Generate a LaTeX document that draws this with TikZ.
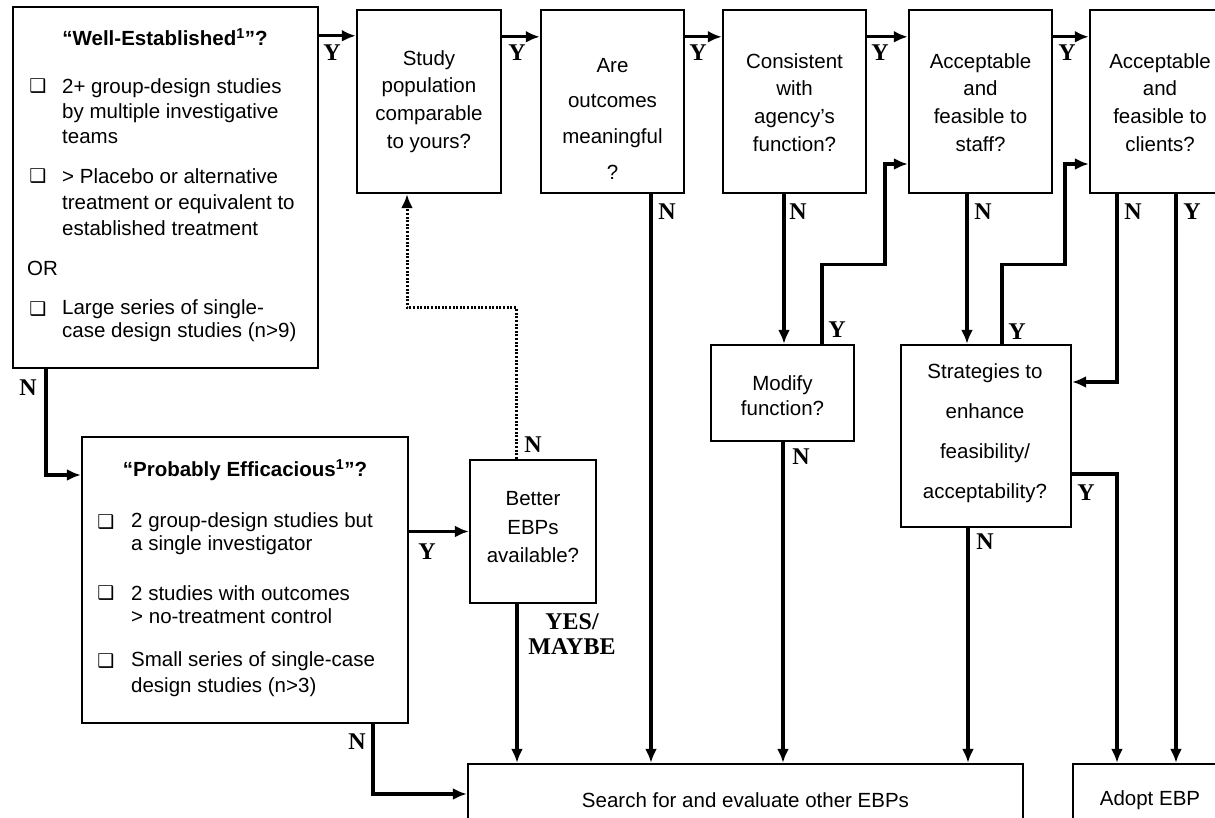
\documentclass[tikz,border=0pt]{standalone}
\usepackage{fontspec}
\setmainfont{Liberation Sans}
\newfontfamily\lblfont{Liberation Serif}
\newfontfamily\symfont{DejaVu Sans}
\usetikzlibrary{arrows.meta}
\tikzset{
  box/.style={draw, line width=2.4pt, inner sep=0pt},
  conn/.style={line width=3.2pt},
  arr/.style={conn, -{Latex[length=14pt,width=12pt]}},
  dotconn/.style={line width=3pt, dash pattern=on 2pt off 1.6pt, -{Latex[length=14pt,width=12pt]}},
  txt/.style={inner sep=0pt, font=\fontsize{20.5}{24}\selectfont},
  ttl/.style={inner sep=0pt, font=\fontsize{20.5}{24}\selectfont\bfseries},
  chk/.style={inner sep=0pt, font=\symfont\fontsize{19}{19}\selectfont},
  lab/.style={inner sep=0pt, font=\lblfont\bfseries\fontsize{24}{24}\selectfont},
}
\begin{document}
\begin{tikzpicture}[x=1pt,y=-1pt]
\useasboundingbox (0,0) rectangle (1215,817);
\clip (0,0) rectangle (1215,817);
% boxes
\node[box, minimum width=305, minimum height=361] (b1) at (165.5,187.5) {};
\node[box, minimum width=144, minimum height=183] (b2) at (429,101.5) {};
\node[box, minimum width=143, minimum height=183] (b3) at (612.5,101.5) {};
\node[box, minimum width=143, minimum height=183] (b4) at (794.5,101.5) {};
\node[box, minimum width=143, minimum height=183] (b5) at (980.5,101.5) {};
\node[box, minimum width=142, minimum height=183] (b6) at (1161,101.5) {};
\node[box, minimum width=326, minimum height=286] (bp) at (245,580) {};
\node[box, minimum width=126, minimum height=143] (bb) at (533,531.5) {};
\node[box, minimum width=143, minimum height=96] (bm) at (782.5,393) {};
\node[box, minimum width=170, minimum height=182] (bs) at (986,436) {};
\node[box, minimum width=555, minimum height=86] (bse) at (745.5,807) {};
\node[box, minimum width=154, minimum height=86] (ba) at (1150,807) {};

% box 1 text
\node[ttl] (t1) at (165,37) {“Well-Established\textsuperscript{1}”?};
\node[chk] (c1a) at (38,86) {❑};
\node[txt, anchor=west, align=left, font=\fontsize{20.5}{25}\selectfont] (t1a) at (62,111) {2+ group-design studies\\by multiple investigative\\teams};
\node[chk] (c1b) at (38,176) {❑};
\node[txt, anchor=west, align=left, font=\fontsize{20.5}{26}\selectfont] (t1b) at (62,202) {> Placebo or alternative\\treatment or equivalent to\\established treatment};
\node[txt, anchor=west] (t1or) at (27,268) {OR};
\node[chk] (c1c) at (38,309) {❑};
\node[txt, anchor=west, align=left, font=\fontsize{20.5}{22.5}\selectfont] (t1c) at (62,320.5) {Large series of single-\\case design studies (n>9)};

% probably efficacious text
\node[ttl] (tp) at (245,470) {“Probably Efficacious\textsuperscript{1}”?};
\node[chk] (cpa) at (106,522) {❑};
\node[txt, anchor=west, align=left, font=\fontsize{20.5}{23}\selectfont] (tpa) at (131,533.5) {2 group-design studies but\\a single investigator};
\node[chk] (cpb) at (106,593) {❑};
\node[txt, anchor=west, align=left, font=\fontsize{20.5}{23}\selectfont] (tpb) at (131,604.5) {2 studies with outcomes\\> no-treatment control};
\node[chk] (cpc) at (106,661) {❑};
\node[txt, anchor=west, align=left, font=\fontsize{20.5}{26}\selectfont] (tpc) at (131,674) {Small series of single-case\\design studies (n>3)};

% other box texts
\node[txt, align=center, font=\fontsize{20.5}{27.7}\selectfont] (t2) at (429,101.5) {Study\\population\\comparable\\to yours?};
\node[txt, align=center, font=\fontsize{20.5}{35.7}\selectfont] (t3) at (612.5,118.5) {Are\\outcomes\\meaningful\\?};
\node[txt, align=center, font=\fontsize{20.5}{27.7}\selectfont] (t4) at (794.5,102.5) {Consistent\\with\\agency’s\\function?};
\node[txt, align=center, font=\fontsize{20.5}{27.7}\selectfont] (t5) at (980.5,102.5) {Acceptable\\and\\feasible to\\staff?};
\node[txt, align=center, font=\fontsize{20.5}{27.7}\selectfont] (t6) at (1160,102.5) {Acceptable\\and\\feasible to\\clients?};
\node[txt, align=center, font=\fontsize{20.5}{25}\selectfont] (tm) at (782.5,395.5) {Modify\\function?};
\node[txt, align=center, font=\fontsize{20.5}{40}\selectfont] (ts) at (985,433) {Strategies to\\enhance\\feasibility/\\acceptability?};
\node[txt, align=center, font=\fontsize{20.5}{28.5}\selectfont] (tb) at (533,527.5) {Better\\EBPs\\available?};
\node[txt] (tse) at (745.5,800) {Search for and evaluate other EBPs};
\node[txt] (ta) at (1150,800) {Adopt EBP};

% connectors along top
\draw[arr] ([yshift=-30]b1.north east) -- ([yshift=-27]b2.north west);
\draw[arr] ([yshift=-28]b2.north east) -- ([yshift=-28]b3.north west);
\draw[arr] ([yshift=-28]b3.north east) -- ([yshift=-28]b4.north west);
\draw[arr] ([yshift=-28]b4.north east) -- ([yshift=-28]b5.north west);
\draw[arr] ([yshift=-28]b5.north east) -- ([yshift=-28]b6.north west);

% N branches
\draw[arr] ([xshift=38.5]b3.south) -- ([xshift=-94.5]bse.north);
\draw[arr] ([xshift=-10.5]b4.south) -- ([xshift=1.5]bm.north);
\draw[arr] ([xshift=0.5]bm.south) -- ([xshift=37.5]bse.north);
\draw[arr] ([xshift=39.5]bm.north) -- ++(0,-79) -- ++(63,0) |- ([yshift=-62.5]b5.west);
\draw[arr] ([xshift=-13.5]b5.south) -- ([xshift=-19]bs.north);
\draw[arr] ([xshift=-18]bs.south) -- ([xshift=222.5]bse.north);
\draw[arr] ([xshift=16]bs.north) -- ++(0,-79) -- ++(63,0) |- ([yshift=-62.5]b6.west);
\draw[arr] ([xshift=-44]b6.south) |- ([yshift=54]bs.east);
\draw[arr] ([xshift=15]b6.south) -- ([xshift=26]ba.north);
\draw[arr] ([yshift=-38]bs.east) -| ([xshift=-33]ba.north);

% left side
\draw[arr] ([xshift=-119.5]b1.south) |- ([yshift=105]bp.west);
\draw[arr] ([yshift=48.5]bp.east) -- (bb.west);
\draw[arr] ([xshift=128]bp.south) |- ([yshift=13]bse.west);
\draw[arr] ([xshift=-16]bb.south) -- ([xshift=-228.5]bse.north);
\draw[dotconn] ([xshift=-17]bb.north) -- ++(0,-151) -| ([xshift=-22]b2.south);

% labels
\node[lab] (y1) at (332,53) {Y};
\node[lab] (y2) at (517,53) {Y};
\node[lab] (y3) at (698,53) {Y};
\node[lab] (y4) at (880,53) {Y};
\node[lab] (y5) at (1067,53) {Y};
\node[lab] (n3) at (667,212) {N};
\node[lab] (n4) at (798,212) {N};
\node[lab] (n5) at (983,212) {N};
\node[lab] (n6) at (1133,212) {N};
\node[lab] (y6) at (1192,212) {Y};
\node[lab] (n1) at (28,388) {N};
\node[lab] (yp) at (427,552) {Y};
\node[lab] (np) at (357,742) {N};
\node[lab] (nb) at (533,445) {N};
\node[lab, align=center, font=\lblfont\bfseries\fontsize{24}{25}\selectfont] (yb) at (572,634) {YES/\\MAYBE};
\node[lab] (ym) at (837,330) {Y};
\node[lab] (nm) at (801,457) {N};
\node[lab] (ys) at (1017,332) {Y};
\node[lab] (ns) at (985,542) {N};
\node[lab] (ys2) at (1086,493) {Y};
\end{tikzpicture}
\end{document}
